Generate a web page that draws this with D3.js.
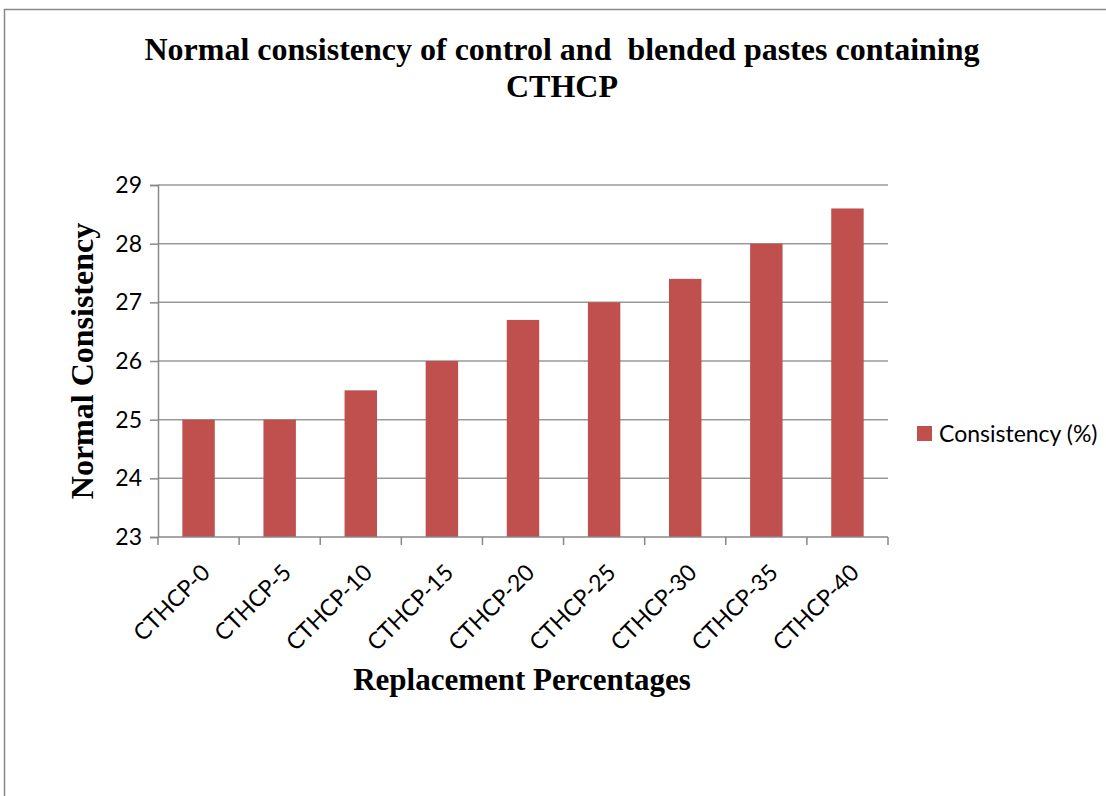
<!DOCTYPE html>
<html><head><meta charset="utf-8">
<script src="https://cdn.jsdelivr.net/npm/d3@7"></script>
<style>body{margin:0;background:#fff}</style>
</head><body>
<svg id="c" width="1106" height="796"></svg>
<script>
const categories = ["CTHCP-0","CTHCP-5","CTHCP-10","CTHCP-15","CTHCP-20","CTHCP-25","CTHCP-30","CTHCP-35","CTHCP-40"];
const consistency = [25, 25, 25.5, 26, 26.7, 27, 27.4, 28, 28.6];
const yTicks = [23, 24, 25, 26, 27, 28, 29];
const seriesName = "Consistency (%)";
const titleLines = ["Normal consistency of control and  blended pastes containing", "CTHCP"];
const xTitle = "Replacement Percentages";
const yTitle = "Normal Consistency";

(function(){
const svg = d3.select("#c");
const pL = 158, pR = 888, pT = 185, pB = 537;
const sans = "Lato, 'Open Sans', sans-serif";
const serif = "'Liberation Serif', 'Times New Roman', serif";
const x = d3.scaleBand().domain(categories).range([pL, pR]).paddingInner(0.6).paddingOuter(0.3);
const y = d3.scaleLinear().domain([23, 29]).range([pB, pT]);

// outer frame
svg.append("rect").attr("x",4.5).attr("y",9.5).attr("width",1200).attr("height",900)
  .attr("fill","none").attr("stroke","#888").attr("stroke-width",1.5);

// gridlines
svg.append("g").selectAll("line").data(yTicks.slice(1)).join("line")
  .attr("x1",pL).attr("x2",pR).attr("y1",d=>y(d)).attr("y2",d=>y(d))
  .attr("stroke","#999").attr("stroke-width",1.5);

// bars
svg.append("g").selectAll("rect").data(consistency).join("rect")
  .attr("x",(d,i)=>x(categories[i])).attr("width",x.bandwidth())
  .attr("y",d=>y(d)).attr("height",d=>pB-y(d))
  .attr("fill","#c0504d");

// y axis
const yAxis = svg.append("g").attr("transform",`translate(${pL},0)`)
  .call(d3.axisLeft(y).tickValues(yTicks).tickSize(8).tickPadding(8).tickFormat(d3.format("d")));
yAxis.select(".domain").attr("stroke","#888").attr("stroke-width",1.5);
yAxis.selectAll(".tick line").attr("stroke","#888").attr("stroke-width",1.5);
yAxis.selectAll("text").attr("font-family",sans).attr("font-size",23).attr("fill","#000");

// x axis
const step = (pR-pL)/categories.length;
const xg = svg.append("g");
xg.append("line").attr("x1",pL).attr("x2",pR).attr("y1",pB).attr("y2",pB)
  .attr("stroke","#888").attr("stroke-width",1.5);
xg.selectAll("line.t").data(d3.range(categories.length+1)).join("line").attr("class","t")
  .attr("x1",i=>pL+i*step).attr("x2",i=>pL+i*step).attr("y1",pB).attr("y2",pB+8)
  .attr("stroke","#888").attr("stroke-width",1.5);
xg.selectAll("text").data(categories).join("text")
  .attr("transform",d=>`translate(${x(d)+x.bandwidth()/2+13},${pB+37}) rotate(-45)`)
  .attr("text-anchor","end").attr("font-family",sans).attr("font-size",23)
  .attr("fill","#000").text(d=>d);

// title
svg.append("g").selectAll("text").data(titleLines).join("text")
  .attr("x",562).attr("y",(d,i)=>60+i*37).attr("text-anchor","middle")
  .attr("font-family",serif).attr("font-weight","bold")
  .attr("font-size",32).attr("fill","#000").style("white-space","pre").text(d=>d);

// axis titles
svg.append("text").attr("x",522).attr("y",690).attr("text-anchor","middle")
  .attr("font-family",serif).attr("font-weight","bold").attr("font-size",31).text(xTitle);
svg.append("text").attr("transform","translate(93,361) rotate(-90)").attr("text-anchor","middle")
  .attr("font-family",serif).attr("font-weight","bold").attr("font-size",32).text(yTitle);

// legend
const lg = svg.append("g");
lg.append("rect").attr("x",917).attr("y",426).attr("width",15).attr("height",15).attr("fill","#c0504d");
lg.append("text").attr("x",939).attr("y",442).attr("font-family",sans)
  .attr("font-size",23).attr("fill","#000").text(seriesName);
})();
</script>
</body></html>
